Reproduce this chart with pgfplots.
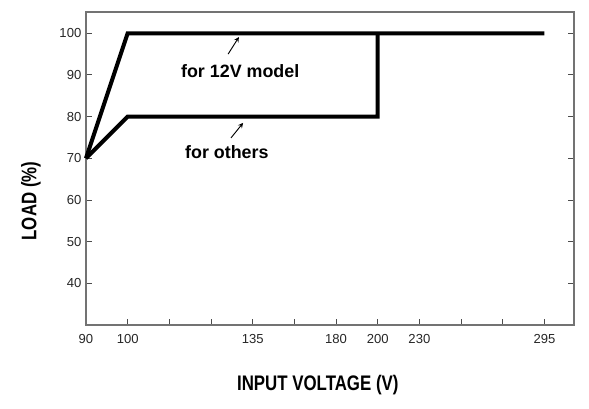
\documentclass[border=0pt]{standalone}
\usepackage{fontspec}
\setmainfont{Liberation Sans}
\newfontfamily\lblfont[FakeStretch=0.8]{Liberation Sans}
\usepackage{pgfplots}
\pgfplotsset{compat=1.18}

\begin{document}
\begin{tikzpicture}
  % x positions are evenly spaced slots: 90,100,...,295 sit on slots 0,1,4,6,7,8,11
  \begin{axis}[
      name=ax,
      scale only axis,
      width=366pt, height=234.75pt,
      xmin=0, xmax=11.71,
      ymin=30, ymax=105.1,
      xtick={0,1,2,3,4,5,6,7,8,9,10,11},
      xticklabels={90,100,,,135,,180,200,230,,,295},
      ytick={40,50,60,70,80,90,100},
      xtick pos=lower,
      ytick pos=both,
      tick align=inside,
      major tick length=4.8pt,
      axis line style={draw=black!55, line width=0.8pt},
      every tick/.style={draw=black!70, line width=0.7pt},
      /pgf/number format/assume math mode=true,
      tick label style={font=\fontsize{9.8}{11}\selectfont, text=black!85},
      xticklabel style={yshift=-3.5pt},
      xlabel={\lblfont\bfseries INPUT VOLTAGE (V)},
      ylabel={\lblfont\bfseries LOAD (\%)},
      xlabel style={at={(rel axis cs:0.475,-0.192)}, anchor=center,
        font=\fontsize{15.8}{18}\selectfont},
      ylabel style={at={(rel axis cs:-0.1127,0.396)}, anchor=center,
        font=\fontsize{15.8}{18}\selectfont},
      clip=false,
    ]
    % for 12V model
    \addplot[black, line width=3pt, line join=miter] coordinates {
      (0,70) (1,100) (11,100)
    };
    % for others
    \addplot[black, line width=3pt, line join=miter] coordinates {
      (0,70) (1,80) (7,80) (7,100)
    };

    \node[font=\bfseries\fontsize{13.4}{15}\selectfont] at (axis cs:3.70,91) {for 12V model};
    \node[font=\bfseries\fontsize{13.4}{15}\selectfont] at (axis cs:3.38,71.5) {for others};
    \draw[-stealth, line width=0.7pt] (axis cs:3.41,95.0) -- (axis cs:3.67,99.1);
    \draw[-stealth, line width=0.7pt] (axis cs:3.48,74.9) -- (axis cs:3.77,78.5);
  \end{axis}
  \pgfresetboundingbox
  \path[use as bounding box] ([shift={(-64.5pt,-62.25pt)}]ax.south west) rectangle ++(441.75pt,306pt);
\end{tikzpicture}
\end{document}
